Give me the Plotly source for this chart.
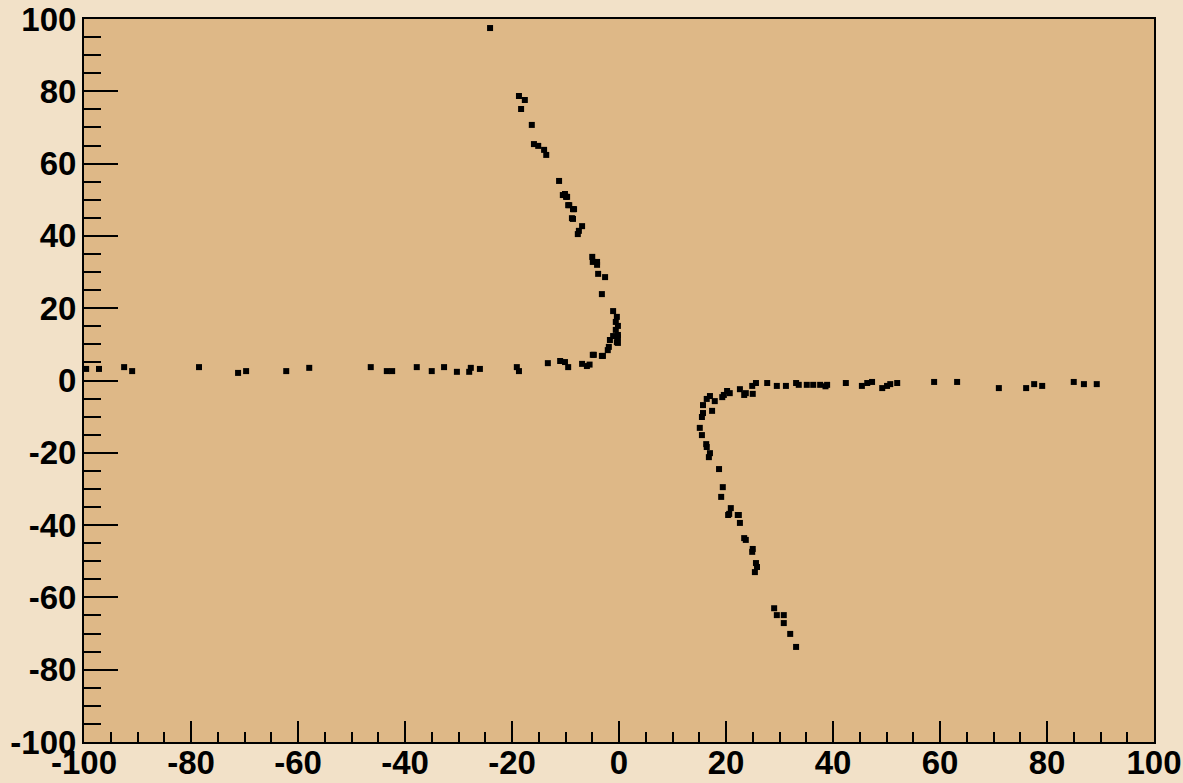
import plotly.graph_objects as go

# Upper-left branch (horizontal arm, then the curve going up)
left_x = [-99.6, -97.2, -92.5, -91.0, -78.5, -71.2, -69.7, -62.2, -57.9, -46.4,
          -43.4, -42.4, -37.8, -35.0, -32.7, -30.3, -28.0, -27.7, -26.0, -19.1,
          -18.7, -13.3, -11.0, -10.1, -9.5, -6.9, -6.0, -5.5, -4.9, -3.2,
          -2.1, -1.7, -0.4, -0.2, -1.9, -3.0, -4.7,
          -0.4, -0.6, -0.2, -0.6, -1.1, -0.2, -0.2, -1.1,
          -3.2, -2.6, -3.9, -4.1, -4.1, -4.9, -5.0,
          -7.7, -7.5, -6.9, -8.6, -8.8, -8.4, -8.6, -9.3, -9.5, -9.9, -10.5,
          -9.7, -10.1, -11.2, -13.6, -14.0, -15.1, -15.9, -16.3, -18.3, -17.6,
          -18.7, -24.1]
left_y = [3.2, 3.2, 3.7, 2.6, 3.7, 2.1, 2.6, 2.6, 3.5, 3.7,
          2.6, 2.6, 3.7, 2.6, 3.7, 2.4, 2.4, 3.5, 3.2, 3.7,
          2.6, 4.8, 5.4, 5.1, 3.7, 4.6, 4.0, 4.4, 7.1, 6.8,
          8.4, 11.2, 10.6, 12.6, 9.3, 6.8, 7.1,
          17.6, 16.2, 15.1, 14.0, 12.3, 12.0, 10.4, 19.2,
          23.9, 28.6, 29.5, 32.0, 32.8, 32.8, 34.2,
          40.5, 41.4, 42.7, 44.7, 44.9, 47.4, 47.4, 48.5, 48.5, 50.8, 51.3,
          50.8, 51.6, 55.2, 62.4, 63.8, 64.9, 65.4, 70.7, 75.1, 77.6,
          78.7, 97.5]

# Lower-right branch (horizontal arm, then the curve going down)
right_x = [89.3, 86.9, 85.0, 79.1, 77.6, 76.1, 71.0, 63.2, 58.9, 52.0,
           50.7, 50.1, 49.2, 47.3, 46.4, 45.4, 42.4, 38.9, 38.6, 37.6,
           36.3, 35.1, 33.6, 33.1, 31.2, 29.5, 27.7, 25.6, 25.0, 24.9,
           23.7, 23.4, 22.6, 20.7, 20.2, 19.6, 19.3, 17.9, 17.0, 16.4,
           17.4, 15.7, 15.7, 15.5, 15.1, 15.5, 16.3, 16.4, 17.0, 16.8,
           18.7, 19.4, 19.1, 20.9, 20.6, 20.4, 22.4, 22.2, 22.6, 23.4,
           23.7, 24.9, 25.0, 25.6, 25.8, 25.4, 29.0, 29.5, 30.8, 30.8,
           32.0, 33.1]
right_y = [-1.0, -1.0, -0.4, -1.5, -1.0, -2.1, -2.1, -0.4, -0.4, -0.7,
           -1.0, -1.5, -2.1, -0.4, -0.7, -1.5, -0.7, -1.2, -1.6, -1.2,
           -1.2, -1.2, -1.2, -0.7, -1.5, -1.5, -0.7, -0.7, -3.7, -1.5,
           -3.5, -4.0, -2.4, -3.5, -2.9, -4.0, -4.6, -5.7, -4.3, -5.1,
           -8.4, -6.8, -9.0, -10.1, -13.1, -15.1, -17.6, -18.4, -20.1, -21.2,
           -24.5, -29.5, -32.2, -35.3, -36.9, -37.2, -37.2, -37.2, -39.4, -43.6,
           -44.1, -47.4, -46.6, -50.5, -51.6, -53.0, -63.0, -64.9, -64.9, -67.1,
           -70.1, -73.7]

tick_vals = [-100, -80, -60, -40, -20, 0, 20, 40, 60, 80, 100]
tick_text = [str(v) for v in tick_vals]

marker = dict(symbol="square", size=6, color="black", line=dict(width=0))

fig = go.Figure()
fig.add_trace(go.Scatter(x=left_x, y=left_y, mode="markers", marker=marker,
                         hoverinfo="x+y", showlegend=False))
fig.add_trace(go.Scatter(x=right_x, y=right_y, mode="markers", marker=marker,
                         hoverinfo="x+y", showlegend=False))

tick_font = dict(family="Liberation Sans, Arial, sans-serif", size=33,
                 color="black", weight="bold")

fig.update_layout(
    width=1183, height=783,
    margin=dict(l=84, r=29, t=19, b=41, autoexpand=False),
    paper_bgcolor="#F2E1C8",
    plot_bgcolor="#DEB887",
    xaxis=dict(range=[-100, 100], tickvals=tick_vals, ticktext=tick_text,
               ticks="inside", ticklen=21, tickwidth=2, tickcolor="black",
               showgrid=False, zeroline=False, showline=True, linecolor="black",
               linewidth=2, mirror=True, tickfont=tick_font, ticklabelstandoff=-10,
               automargin=False, ticklabeloverflow="allow",
               minor=dict(dtick=5, ticks="inside", ticklen=10, tickwidth=2,
                          tickcolor="black", showgrid=False)),
    yaxis=dict(range=[-100, 100], tickvals=tick_vals, ticktext=tick_text,
               ticks="inside", ticklen=34, tickwidth=2, tickcolor="black",
               showgrid=False, zeroline=False, showline=True, linecolor="black",
               linewidth=2, mirror=True, tickfont=tick_font, ticklabelstandoff=-1,
               automargin=False, ticklabeloverflow="allow",
               minor=dict(dtick=5, ticks="inside", ticklen=17, tickwidth=2,
                          tickcolor="black", showgrid=False)),
)

fig.write_html("out.html")
